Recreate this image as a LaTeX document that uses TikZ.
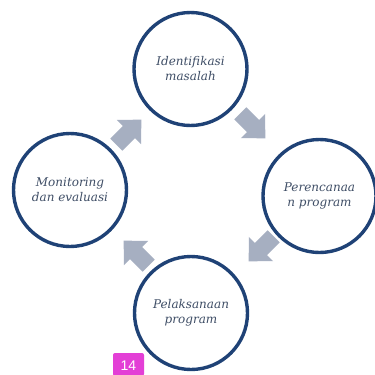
\documentclass[tikz,border=0pt]{standalone}
\usepackage{fontspec}
\setmainfont{DejaVu Serif}
\setsansfont{Liberation Sans}
\definecolor{ringblue}{HTML}{1F4276}
\definecolor{arrowgray}{HTML}{A6AFC1}
\definecolor{txtgray}{HTML}{3F4E66}
\definecolor{tagpink}{HTML}{E33FD6}
\tikzset{
  stage/.style={circle, draw=ringblue, line width=3.4pt, fill=white, minimum size=113pt, inner sep=0pt,
    align=center, text=txtgray, font=\fontsize{12}{15}\selectfont\itshape},
  blockarrow/.style={fill=arrowgray, draw=none},
}
\newcommand\blockarrowpath{(-18,-8.5) -- (0,-8.5) -- (0,-17) -- (17.5,0) -- (0,17) -- (0,8.5) -- (-18,8.5) -- cycle}
\begin{document}
\begin{tikzpicture}[x=1pt,y=-1pt]
\useasboundingbox (0,0) rectangle (375,375);
\fill[white] (0,0) rectangle (375,375);
\node[stage] (ident) at (190.5,69) {Identifikasi\\masalah};
\node[stage] (plan) at (319.5,196) {Perencanaa\\n program};
\node[stage] (exec) at (191,313) {Pelaksanaan\\program};
\node[stage] (mon) at (70,190) {Monitoring\\dan evaluasi};
\fill[blockarrow, shift={(253,126)}, rotate=-45] \blockarrowpath;
\fill[blockarrow, shift={(261,249)}, rotate=-135] \blockarrowpath;
\fill[blockarrow, shift={(136,253)}, rotate=135] \blockarrowpath;
\fill[blockarrow, shift={(129,132)}, rotate=45] \blockarrowpath;
\path[fill=tagpink, rounded corners=2pt] (113,376) -- (113,353) -- (144,353) -- (144,376) -- cycle;
\node[text=white, font=\sffamily\fontsize{14}{14}\selectfont, inner sep=0pt] (tag) at (128.5,366) {14};
\end{tikzpicture}
\end{document}
